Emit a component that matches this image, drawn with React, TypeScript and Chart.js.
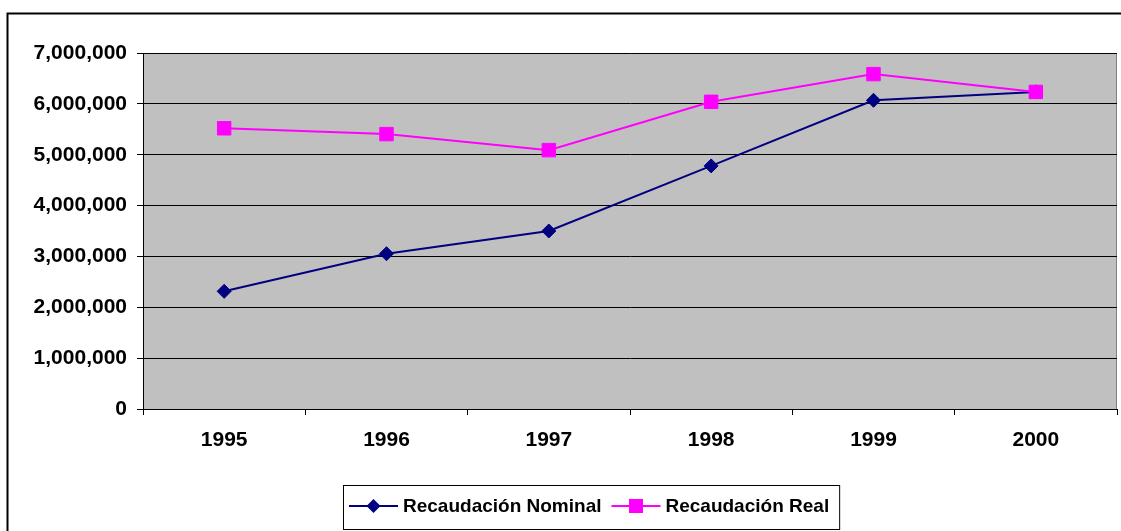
import { useEffect, useRef } from "react";
import { Chart, registerables } from "chart.js";

Chart.register(...registerables);

const years = ["1995", "1996", "1997", "1998", "1999", "2000"];
const nominal = [2314000, 3053000, 3500000, 4780000, 6070000, 6235000];
const real = [5520000, 5405000, 5090000, 6040000, 6585000, 6235000];
const seriesLabels = ["Recaudación Nominal", "Recaudación Real"];
const yMin = 0;
const yMax = 7000000;
const yStep = 1000000;

const FONT = "'Liberation Sans', Arial, sans-serif";

const framePlugin = {
  id: "frame",
  beforeDraw(chart: any) {
    const { ctx, chartArea: a, width, height } = chart;
    ctx.save();
    ctx.fillStyle = "#ffffff";
    ctx.fillRect(0, 0, width, height);
    ctx.fillStyle = "#C0C0C0";
    ctx.fillRect(a.left, a.top, a.right - a.left, a.bottom - a.top);
    ctx.strokeStyle = "#808080";
    ctx.lineWidth = 1;
    ctx.strokeRect(a.left + 0.5, a.top + 0.5, a.right - a.left - 1, a.bottom - a.top);
    // outer border
    ctx.strokeStyle = "#000000";
    ctx.lineWidth = 2;
    ctx.strokeRect(7.5, 13.5, width + 20, height + 20);
    ctx.restore();
  },
  afterDraw(chart: any) {
    const { ctx } = chart;
    const ds = chart.data.datasets;
    ctx.save();
    ctx.font = `bold 19px ${FONT}`;
    const lineLen = 49;
    const gapText = 5;
    const gapItem = 10;
    const padL = 6;
    const padR = 10;
    let total = padL + padR;
    const widths = ds.map((d: any) => ctx.measureText(d.label).width);
    widths.forEach((w: number, i: number) => {
      total += lineLen + gapText + w + (i < widths.length - 1 ? gapItem : 0);
    });
    const cx = 591;
    const boxL = Math.round(cx - total / 2);
    const boxT = 485;
    const boxH = 44;
    ctx.fillStyle = "#ffffff";
    ctx.fillRect(boxL, boxT, total, boxH);
    ctx.strokeStyle = "#000000";
    ctx.lineWidth = 1;
    ctx.strokeRect(boxL + 0.5, boxT + 0.5, total, boxH);
    const cy = boxT + 21;
    let x = boxL + padL;
    ds.forEach((d: any, i: number) => {
      ctx.strokeStyle = d.borderColor;
      ctx.lineWidth = 2;
      ctx.beginPath();
      ctx.moveTo(x, cy);
      ctx.lineTo(x + lineLen, cy);
      ctx.stroke();
      const mx = x + lineLen / 2;
      ctx.fillStyle = d.pointBackgroundColor;
      ctx.beginPath();
      if (d.pointStyle === "rectRot") {
        const r = 7;
        ctx.moveTo(mx - r, cy);
        ctx.lineTo(mx, cy - r);
        ctx.lineTo(mx + r, cy);
        ctx.lineTo(mx, cy + r);
        ctx.closePath();
      } else {
        const s = 7;
        ctx.rect(mx - s, cy - s, 2 * s, 2 * s);
      }
      ctx.fill();
      ctx.fillStyle = "#000000";
      ctx.textAlign = "left";
      ctx.textBaseline = "middle";
      ctx.fillText(d.label, x + lineLen + gapText, cy + 1);
      x += lineLen + gapText + widths[i] + gapItem;
    });
    ctx.restore();
  },
};

export default function App() {
  const ref = useRef<HTMLCanvasElement | null>(null);

  useEffect(() => {
    if (!ref.current) return;
    const chart = new Chart(ref.current, {
      type: "line",
      data: {
        labels: years,
        datasets: [
          {
            label: seriesLabels[0],
            data: nominal,
            order: 1,
            borderColor: "#000080",
            backgroundColor: "#000080",
            pointBackgroundColor: "#000080",
            pointBorderColor: "#000080",
            pointStyle: "rectRot",
            pointRadius: 7,
            pointBorderWidth: 1,
            borderWidth: 2,
            tension: 0,
          },
          {
            label: seriesLabels[1],
            data: real,
            order: 0,
            borderColor: "#FF00FF",
            backgroundColor: "#FF00FF",
            pointBackgroundColor: "#FF00FF",
            pointBorderColor: "#FF00FF",
            pointStyle: "rect",
            pointRadius: 9.5,
            pointBorderWidth: 1,
            borderWidth: 2,
            tension: 0,
          },
        ],
      },
      options: {
        animation: false,
        responsive: false,
        maintainAspectRatio: false,
        layout: { autoPadding: false, padding: { top: 53, right: 4, left: 0, bottom: 0 } },
        plugins: {
          legend: { display: false },
          tooltip: { enabled: false },
        },
        scales: {
          x: {
            offset: true,
            grid: {
              offset: true,
              drawOnChartArea: false,
              tickLength: 6,
              color: "#000000",
            },
            border: { display: true, color: "#000000" },
            ticks: {
              color: "#000000",
              font: { family: FONT, size: 21, weight: "bold" },
              padding: 13,
              maxRotation: 0,
            },
            afterFit: (s: any) => {
              s.height = 122;
              s.paddingLeft = 0;
              s.paddingRight = 0;
            },
          },
          y: {
            min: yMin,
            max: yMax,
            grid: { color: "#000000", tickLength: 6, lineWidth: 1 },
            border: { display: true, color: "#000000" },
            ticks: {
              stepSize: yStep,
              color: "#000000",
              padding: 10,
              font: { family: FONT, size: 21, weight: "bold" },
              callback: (v: any) => Number(v).toLocaleString("en-US"),
            },
            afterFit: (s: any) => {
              s.width = 143;
            },
          },
        },
      },
      plugins: [framePlugin],
    });
    return () => chart.destroy();
  }, []);

  return (
    <div style={{ position: "fixed", left: 0, top: 0, width: 1121, height: 531 }}>
      <canvas ref={ref} width={1121} height={531} style={{ display: "block", width: 1121, height: 531 }} />
    </div>
  );
}
